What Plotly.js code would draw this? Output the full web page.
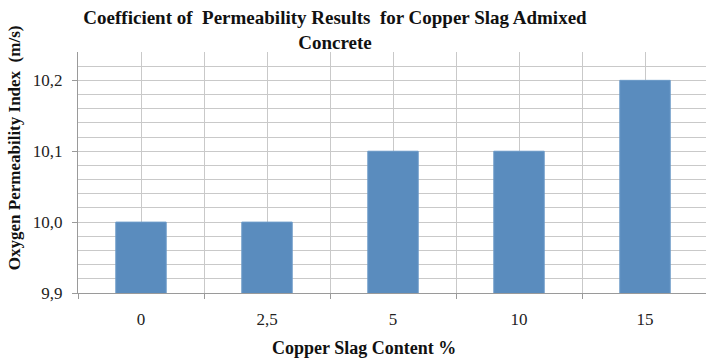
<!DOCTYPE html>
<html>
<head>
<meta charset="utf-8">
<script src="https://cdn.plot.ly/plotly-3.0.1.min.js"></script>
<style>
  html, body { margin: 0; padding: 0; background: #fff; }
  #chart { width: 706px; height: 360px; }
</style>
</head>
<body>
<div id="chart"></div>
<script>
// Copper slag content (%) and the measured oxygen permeability index (m/s)
const categories = ['0', '2,5', '5', '10', '15'];
const permeability = [10.0, 10.0, 10.1, 10.1, 10.2];

const positions = categories.map((_, i) => i);
const boundaries = categories.map((_, i) => i - 0.5).concat([categories.length - 0.5]);

const serif = "'Liberation Serif', 'Times New Roman', serif";
const gridGrey = '#c9c9c9';
const axisGrey = '#9a9a9a';

const trace = {
  type: 'bar',
  x: positions,
  y: permeability,
  width: 0.4,
  marker: { color: '#5a8cbe', line: { color: '#6b9ac8', width: 1 } },
  hoverinfo: 'skip'
};

const layout = {
  width: 706,
  height: 360,
  margin: { l: 78, r: 0, t: 52, b: 67 },
  paper_bgcolor: '#ffffff',
  plot_bgcolor: '#ffffff',
  separators: ',.',
  showlegend: false,
  font: { family: serif, color: '#222', size: 17 },
  title: {
    text: 'Coefficient of  Permeability Results  for Copper Slag Admixed<br>Concrete',
    font: { family: serif, size: 19, color: '#111', weight: 'bold' },
    x: 335 / 706, xref: 'container', xanchor: 'center',
    y: 1 - 24 / 360, yref: 'container', yanchor: 'middle'
  },
  xaxis: {
    range: [-0.5, 4.484],
    tickvals: positions,
    ticktext: categories,
    ticks: '',
    showgrid: true,
    gridcolor: gridGrey,
    gridwidth: 1,
    showline: true,
    linecolor: axisGrey,
    linewidth: 1,
    zeroline: false,
    ticklabelstandoff: 11,
    tickfont: { family: serif, size: 17, color: '#222' },
    minor: {
      tickvals: boundaries,
      showgrid: true,
      gridcolor: gridGrey,
      gridwidth: 1,
      ticks: 'outside',
      ticklen: 5,
      tickcolor: axisGrey
    },
    fixedrange: true
  },
  yaxis: {
    range: [9.9, 10.24],
    tick0: 9.9,
    dtick: 0.1,
    tickformat: '.1f',
    ticks: 'outside',
    ticklen: 5,
    tickcolor: axisGrey,
    showgrid: true,
    gridcolor: gridGrey,
    gridwidth: 1,
    showline: true,
    linecolor: axisGrey,
    linewidth: 1,
    zeroline: false,
    ticklabelstandoff: 6,
    tickfont: { family: serif, size: 17, color: '#222' },
    minor: {
      dtick: 0.02,
      showgrid: true,
      gridcolor: gridGrey,
      gridwidth: 1
    },
    fixedrange: true
  },
  annotations: [
    {
      text: '<b>Oxygen Permeability Index  (m/s)</b>',
      textangle: -90,
      xref: 'paper', yref: 'paper',
      x: 0, y: 0.601,
      xshift: -64,
      xanchor: 'center', yanchor: 'middle',
      showarrow: false,
      font: { family: serif, size: 17, color: '#111' }
    },
    {
      text: '<b>Copper Slag Content %</b>',
      xref: 'paper', yref: 'paper',
      x: (364 - 78) / 628, y: 0,
      yshift: -43,
      xanchor: 'center', yanchor: 'top',
      showarrow: false,
      font: { family: serif, size: 18, color: '#111' }
    }
  ]
};

Plotly.newPlot('chart', [trace], layout, { displayModeBar: false, staticPlot: true });
</script>
</body>
</html>
